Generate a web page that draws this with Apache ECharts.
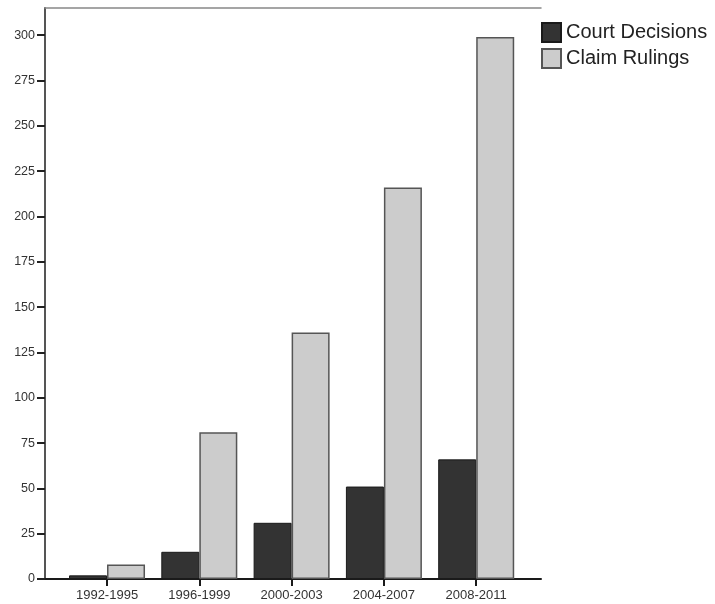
<!DOCTYPE html>
<html>
<head>
<meta charset="utf-8">
<script src="https://cdn.jsdelivr.net/npm/echarts@6/dist/echarts.min.js"></script>
<style>
  html, body { margin: 0; padding: 0; background: #ffffff; }
  #chart { width: 715px; height: 604px; }
</style>
</head>
<body>
<div id="chart"></div>
<script>
var categories = ['1992-1995', '1996-1999', '2000-2003', '2004-2007', '2008-2011'];
var courtDecisions = [2, 15, 31, 51, 66];
var claimRulings = [8, 81, 136, 216, 299];
var yTicks = [0, 25, 50, 75, 100, 125, 150, 175, 200, 225, 250, 275, 300];

var positions = categories.map(function (c, i) { return i; });
var font = 'Liberation Sans, Arial, Helvetica, sans-serif';

var chart = echarts.init(document.getElementById('chart'), null, { renderer: 'canvas' });
chart.setOption({
  animation: false,
  backgroundColor: '#ffffff',
  grid: { left: 45, top: 8, right: 174, bottom: 25 },
  legend: {
    orient: 'vertical',
    left: 541,
    top: 22,
    padding: 0,
    itemWidth: 19,
    itemHeight: 19,
    itemGap: 5,
    icon: 'rect',
    textStyle: { fontFamily: font, fontSize: 20, color: '#222222' },
    data: ['Court Decisions', 'Claim Rulings']
  },
  xAxis: [{
    type: 'value',
    min: -0.672,
    max: 4.702,
    position: 'bottom',
    axisLine: { show: true, onZero: false, lineStyle: { color: '#1a1a1a', width: 2 } },
    axisTick: { show: true, length: 7, customValues: positions, lineStyle: { color: '#1a1a1a', width: 2 } },
    axisLabel: {
      customValues: positions,
      margin: 10,
      fontFamily: font,
      fontSize: 13,
      color: '#333333',
      formatter: function (v) { return categories[Math.round(v)]; }
    },
    splitLine: { show: false }
  }, {
    type: 'value',
    min: -0.672,
    max: 4.702,
    position: 'top',
    axisLine: { show: true, onZero: false, lineStyle: { color: '#888888', width: 1.5 } },
    axisTick: { show: false },
    axisLabel: { show: false },
    splitLine: { show: false }
  }],
  yAxis: {
    type: 'value',
    min: 0,
    max: 315,
    position: 'left',
    axisLine: { show: true, onZero: false, lineStyle: { color: '#555555', width: 2 } },
    axisTick: { show: true, length: 8, customValues: yTicks, lineStyle: { color: '#222222', width: 2 } },
    axisLabel: {
      customValues: yTicks,
      margin: 10,
      fontFamily: font,
      fontSize: 12.5,
      color: '#333333'
    },
    splitLine: { show: false }
  },
  series: [{
    name: 'Court Decisions',
    type: 'bar',
    xAxisIndex: 0,
    barWidth: 38,
    barGap: '0%',
    itemStyle: { color: '#333333', borderColor: '#1a1a1a', borderWidth: 1 },
    data: courtDecisions.map(function (v, i) { return [positions[i], v]; })
  }, {
    name: 'Claim Rulings',
    type: 'bar',
    xAxisIndex: 0,
    barWidth: 38,
    barGap: '0%',
    itemStyle: { color: '#cccccc', borderColor: '#555555', borderWidth: 1.5 },
    data: claimRulings.map(function (v, i) { return [positions[i], v]; })
  }]
});
</script>
</body>
</html>
